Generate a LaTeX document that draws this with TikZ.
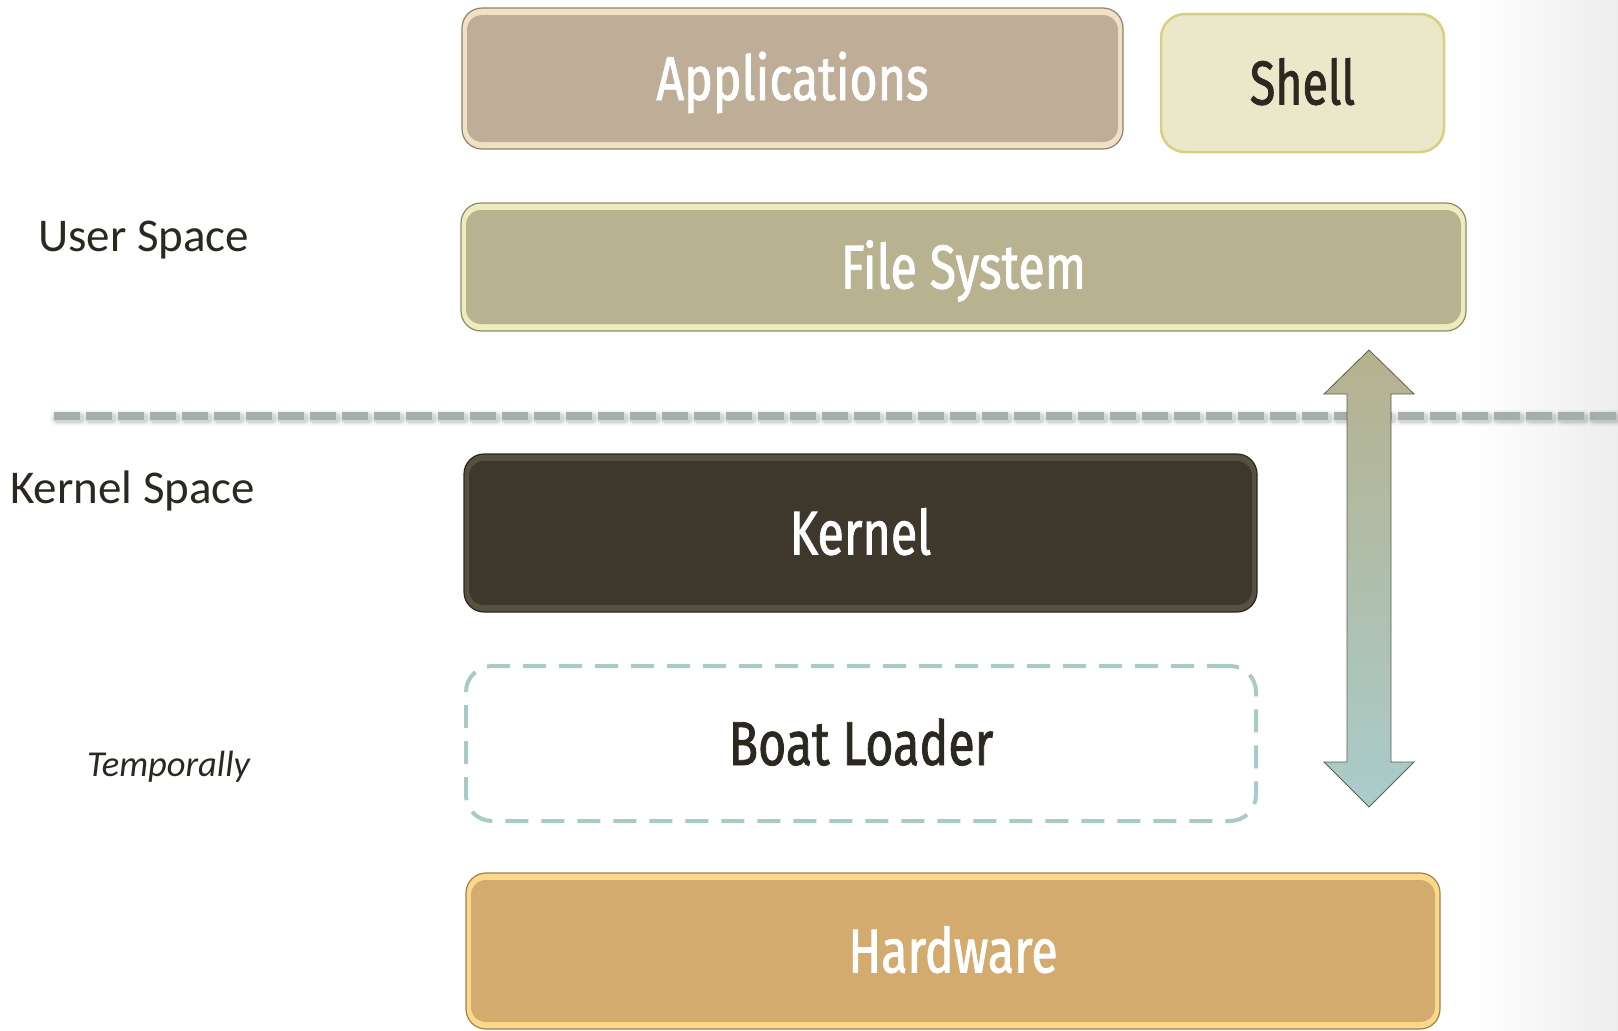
\documentclass[tikz,border=0pt]{standalone}
\usepackage{fontspec}
\setmainfont{Carlito}
\newfontfamily\boxfont[FakeStretch=0.78, FakeBold=1.3]{Fira Sans}
\newfontfamily\shellfont[FakeStretch=0.75, FakeBold=1.3]{Fira Sans}
\usetikzlibrary{calc}
\definecolor{txtdark}{HTML}{2B2820}
\definecolor{appout}{HTML}{8C8270}
\definecolor{apprim}{HTML}{F0E0C4}
\definecolor{appmain}{HTML}{BEAE98}
\definecolor{shellfill}{HTML}{EBE8CA}
\definecolor{shelldraw}{HTML}{D9D07F}
\definecolor{fsout}{HTML}{8C8A6A}
\definecolor{fsrim}{HTML}{EEEBBE}
\definecolor{fsmain}{HTML}{B8B290}
\definecolor{kout}{HTML}{2B261D}
\definecolor{krim}{HTML}{57513F}
\definecolor{kmain}{HTML}{3E382C}
\definecolor{bootdash}{HTML}{A8CBC8}
\definecolor{hwout}{HTML}{A07F4F}
\definecolor{hwrim}{HTML}{FBD98A}
\definecolor{hwmain}{HTML}{D3AB6E}
\definecolor{divider}{HTML}{A4AFAA}
\definecolor{arrtop}{HTML}{B6B18E}
\definecolor{arrbot}{HTML}{A9CCCB}
\definecolor{arrout}{HTML}{5E5E4E}
\definecolor{edgegray}{HTML}{EDEDED}
\begin{document}
\begin{tikzpicture}[x=1pt,y=-1pt,
  layerbox/.style n args={4}{draw=#1, fill=#2, line width=1.2pt, rounded corners=20pt,
    inner sep=0pt, text=#4, font=\boxfont\fontsize{62}{70}\selectfont,
    text height=43pt, text depth=0pt,
    path picture={\fill[#3, rounded corners=15pt]
      ([shift={(5pt,-7pt)}]path picture bounding box.north west) rectangle
      ([shift={(-5pt,7pt)}]path picture bounding box.south east);}},
  flatbox/.style={draw=shelldraw, fill=shellfill, line width=2.5pt, rounded corners=24pt,
    inner sep=0pt, text=txtdark, font=\boxfont\fontsize{62}{70}\selectfont,
    text height=43pt, text depth=0pt},
  dashbox/.style={draw=bootdash, line width=4pt, dash pattern=on 23pt off 13pt,
    rounded corners=26pt, inner sep=0pt, text=txtdark,
    font=\boxfont\fontsize{62}{70}\selectfont, text height=43pt, text depth=0pt},
  sidelabel/.style={anchor=base west, text=txtdark, inner sep=0pt,
    font=\fontsize{47}{56}\selectfont}
]
\useasboundingbox (0,0) rectangle (1618,1031);
\shade[left color=white, right color=edgegray] (1470,0) rectangle (1618,1031);

% divider
\coordinate (divL) at (54,416);
\coordinate (divR) at (1618,416);
\foreach \w/\o in {16/0.04, 12/0.06, 9/0.08}
  \draw[black, opacity=\o, line width=\w pt, line cap=round, dash pattern=on 22pt off 10pt]
    ([xshift=4pt,yshift=-2pt]divL) -- ([yshift=-2pt]divR);
\draw[divider, line width=8pt, dash pattern=on 26pt off 6pt] (divL) -- (divR);

% boxes
\node[layerbox={appout}{apprim}{appmain}{white}, minimum width=661pt, minimum height=141pt]
  (app) at (792.5,78.5) {Applications};
\node[flatbox, font=\shellfont\fontsize{62}{70}\selectfont, minimum width=283pt, minimum height=138pt]
  (shell) at (1302.5,83) {Shell};
\node[layerbox={fsout}{fsrim}{fsmain}{white}, minimum width=1005pt, minimum height=128pt]
  (fs) at (963.5,267) {File System};
\node[layerbox={kout}{krim}{kmain}{white}, minimum width=793pt, minimum height=158pt]
  (kernel) at (860.5,533) {Kernel};
\node[dashbox, minimum width=790pt, minimum height=155pt] (boot) at (861,743.5) {Boat Loader};
\node[layerbox={hwout}{hwrim}{hwmain}{white}, minimum width=974pt, minimum height=156pt]
  (hw) at (953,951) {Hardware};

% side labels
\node[sidelabel] (user) at (38,251) {User Space};
\node[sidelabel] (kspace) at (10,503.5) {Kernel Space};
\node[sidelabel, font=\itshape\fontsize{36.5}{44}\selectfont] (temp) at (87,776) {Temporally};

% double arrow
\coordinate (atop) at (1369,350);
\coordinate (abot) at (1369,807);
\shadedraw[top color=arrtop, bottom color=arrbot, draw=arrout, line width=0.8pt]
  (atop) -- ++(45,44) -- ++(-23,0) -- ($(abot)+(22,-45)$) -- ++(23,0) -- (abot)
  -- ++(-45,-45) -- ++(23,0) -- ($(atop)+(-22,44)$) -- ++(-23,0) -- cycle;
\end{tikzpicture}
\end{document}
